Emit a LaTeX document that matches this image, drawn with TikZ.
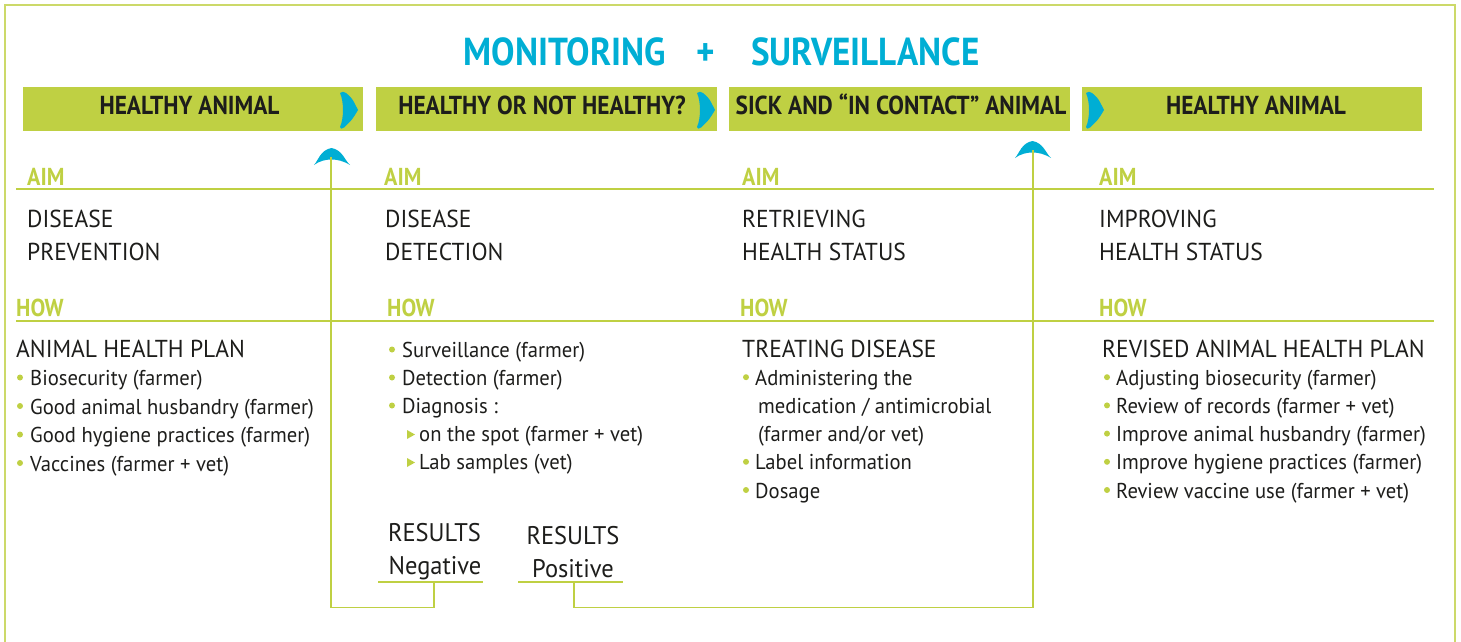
\documentclass[tikz,border=0pt]{standalone}
\usepackage{fontspec}
\setmainfont[FakeStretch=0.96]{PT Sans}
\newfontfamily\hdrfont[FakeStretch=0.9]{PT Sans}
\definecolor{lime}{HTML}{BFD043}
\definecolor{cyanb}{HTML}{00AED4}
\definecolor{ink}{HTML}{1D1D1B}
\tikzset{
  bar/.style={fill=lime, draw=none, anchor=north west, minimum width=#1, minimum height=43.5pt, inner sep=0pt},
  hdr/.style={font=\hdrfont\fontsize{26}{30}\selectfont\bfseries, text=ink, anchor=base, inner sep=0pt},
  ttl/.style={font=\hdrfont\fontsize{39}{46}\selectfont\bfseries, text=cyanb, inner sep=0pt},
  lbl/.style={font=\hdrfont\fontsize{24.5}{30}\selectfont\bfseries, text=lime, anchor=base west, inner sep=0pt},
  aimt/.style={font=\fontsize{24.5}{30}\selectfont, text=ink, anchor=base west, inner sep=0pt},
  headt/.style={font=\fontsize{24.5}{28}\selectfont, text=ink, anchor=base west, inner sep=0pt},
  itm/.style={font=\fontsize{21.5}{26}\selectfont, text=ink, anchor=base west, inner sep=0pt},
  rest/.style={font=\fontsize{25.5}{28}\selectfont, text=ink, anchor=base, inner sep=0pt},
  rule/.style={draw=lime, line width=1.4pt},
  conn/.style={draw=lime, line width=1.8pt},
  uline/.style={draw=lime, line width=2.6pt},
  dot/.style={fill=lime},
  chev/.pic={\fill[cyanb] (0,1) .. controls (2,-0.8) and (4,-0.5) .. (6,1) .. controls (12,6) .. (18,18) .. controls (12,28) .. (4,35.5) .. controls (2,37.3) and (0,37) .. (0,35) .. controls (4,26) and (4,10) .. (0,1) -- cycle;},
  umb/.pic={\fill[cyanb] (-17.5,17) .. controls (-13,12) and (-11,2) .. (0,0) .. controls (11,2) and (13,12) .. (18.5,17) .. controls (12,13) and (6,11.5) .. (0,11.5) .. controls (-6,11.5) and (-12,13) .. (-17.5,17) -- cycle;}
}
\begin{document}
\begin{tikzpicture}[x=1pt,y=-1pt]
\useasboundingbox (0,0) rectangle (1461,642);
% outer frame
\draw[draw=lime!80, line width=1.5pt] (5,660) -- (5,5) -- (1455,5) -- (1455,660);
% title
\node[ttl, anchor=base east] (tm) at (666,66) {MONITORING};
\node[ttl, anchor=base] (tp) at (706,66) {+};
\node[ttl, anchor=base west] (ts) at (751,66) {SURVEILLANCE};
% header bars
\node[bar=340pt] (b1) at (23,87) {};
\node[bar=341pt] (b2) at (376,87) {};
\node[bar=341pt] (b3) at (729,87) {};
\node[bar=340pt] (b4) at (1082,87) {};
\node[hdr] (h1) at (189.5,114) {HEALTHY ANIMAL};
\node[hdr] (h2) at (542,114) {HEALTHY OR NOT HEALTHY?};
\node[hdr] (h3) at (901,114) {SICK AND “IN CONTACT” ANIMAL};
\node[hdr] (h4) at (1256,114) {HEALTHY ANIMAL};
\pic at (340,92) {chev};
\pic at (697,92) {chev};
\pic at (1086,92) {chev};
% rules
\draw[rule] (16,189) -- (1434,189);
\draw[rule] (16,321) -- (1434,321);
% AIM / HOW labels
\node[lbl] (aim1) at (27,185) {AIM};
\node[lbl] (aim2) at (384,185) {AIM};
\node[lbl] (aim3) at (742,185) {AIM};
\node[lbl] (aim4) at (1099,185) {AIM};
\node[lbl] (how1) at (16,316) {HOW};
\node[lbl] (how2) at (387,316) {HOW};
\node[lbl] (how3) at (740,316) {HOW};
\node[lbl] (how4) at (1099,316) {HOW};
% aim texts
\node[aimt] (a1a) at (27,227) {DISEASE};
\node[aimt] (a1b) at (27,260) {PREVENTION};
\node[aimt] (a2a) at (385,227) {DISEASE};
\node[aimt] (a2b) at (385,260) {DETECTION};
\node[aimt] (a3a) at (742,227) {RETRIEVING};
\node[aimt] (a3b) at (742,260) {HEALTH STATUS};
\node[aimt] (a4a) at (1099,227) {IMPROVING};
\node[aimt] (a4b) at (1099,260) {HEALTH STATUS};
% column 1 how
\node[headt] (p1) at (16,357) {ANIMAL HEALTH PLAN};
\foreach \t [count=\i] in {Biosecurity (farmer), Good animal husbandry (farmer), Good hygiene practices (farmer), Vaccines (farmer + vet)}{
  \pgfmathsetmacro\yy{357+28.5*\i}
  \fill[dot] (20,\yy-8) circle (3);
  \node[itm] (c1i\i) at (30,\yy) {\t};
}
% column 2 how
\foreach \t [count=\i from 0] in {Surveillance (farmer), Detection (farmer), Diagnosis :}{
  \pgfmathsetmacro\yy{357.5+28*\i}
  \fill[dot] (392,\yy-8) circle (3);
  \node[itm] (c2i\i) at (402,\yy) {\t};
}
\foreach \t [count=\i from 3] in {on the spot (farmer + vet), Lab samples (vet)}{
  \pgfmathsetmacro\yy{357.5+28*\i}
  \fill[dot] (407,\yy-11.5) -- (415,\yy-7) -- (407,\yy-2.5) -- cycle;
  \node[itm] (c2i\i) at (419,\yy) {\t};
}
% column 3 how
\node[headt] (p3) at (742,357) {TREATING DISEASE};
\fill[dot] (746,385.2-8) circle (3);
\node[itm] (c3i1) at (755,385.2) {Administering the};
\node[itm] (c3i2) at (758,413.4) {medication / antimicrobial};
\node[itm] (c3i3) at (758,441.6) {(farmer and/or vet)};
\fill[dot] (746,469.8-8) circle (3);
\node[itm] (c3i4) at (755,469.8) {Label information};
\fill[dot] (746,498-8) circle (3);
\node[itm] (c3i5) at (755,498) {Dosage};
% column 4 how
\node[headt] (p4) at (1102,357) {REVISED ANIMAL HEALTH PLAN};
\foreach \t [count=\i] in {Adjusting biosecurity (farmer), Review of records (farmer + vet), Improve animal husbandry (farmer), Improve hygiene practices (farmer), Review vaccine use (farmer + vet)}{
  \pgfmathsetmacro\yy{357+28.2*\i}
  \fill[dot] (1107,\yy-8) circle (3);
  \node[itm] (c4i\i) at (1116,\yy) {\t};
}
% results
\node[rest] (r1) at (434.5,541) {RESULTS};
\node[rest] (neg) at (435,574) {Negative};
\node[rest] (r2) at (573,544) {RESULTS};
\node[rest] (pos) at (573,577) {Positive};
\draw[uline] (378,582) -- (483,582);
\draw[uline] (518,582) -- (623,582);
\coordinate (negj) at (434,582);
\coordinate (posj) at (574,582);
% arrows
\pic at (331.5,148) {umb};
\pic at (1032.5,141) {umb};
\coordinate (up1) at (331,157);
\coordinate (up2) at (1033,150);
\draw[conn] (negj) -- ++(0,25.5) -| (up1);
\draw[conn] (posj) -- ++(0,25.5) -| (up2);
\end{tikzpicture}
\end{document}
